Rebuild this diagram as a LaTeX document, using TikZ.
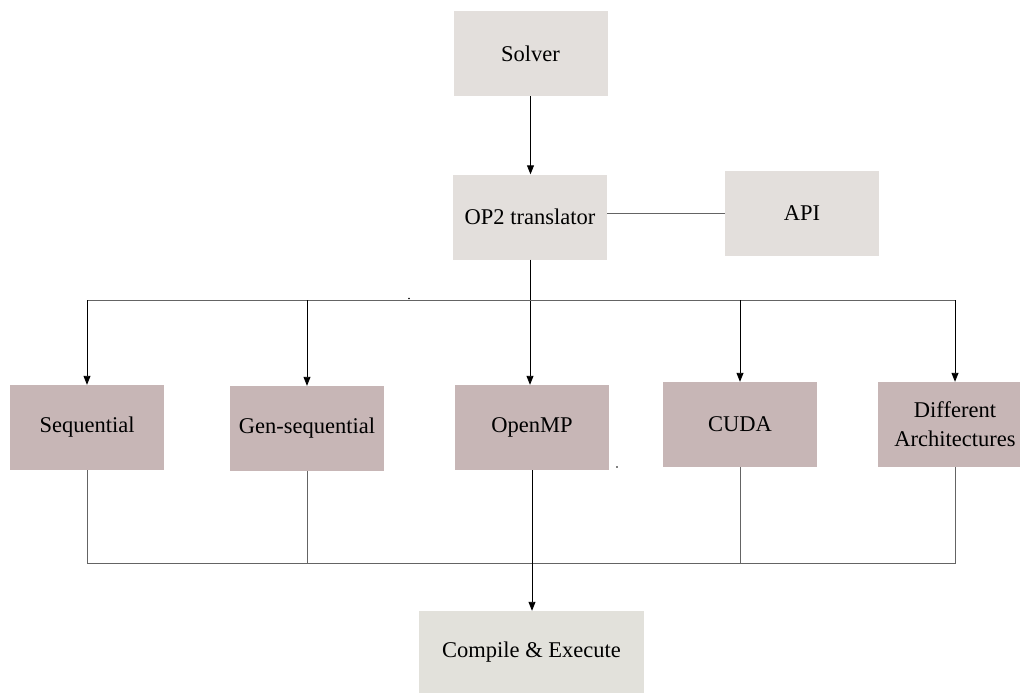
\documentclass[tikz,border=0pt]{standalone}
\usepackage{fontspec}
\setmainfont{Liberation Serif}
\usetikzlibrary{arrows.meta}
\definecolor{topgrey}{RGB}{227,223,220}
\definecolor{mauve}{RGB}{199,182,182}
\definecolor{botgrey}{RGB}{226,225,219}
\definecolor{linegrey}{RGB}{100,100,100}
\tikzset{
  box/.style={rectangle, inner sep=0pt, minimum width=154pt, minimum height=85pt, align=center,
    font=\fontsize{22.5}{29}\selectfont},
  topbox/.style={box, fill=topgrey},
  backbox/.style={box, fill=mauve},
  endbox/.style={box, fill=botgrey, minimum width=225pt, minimum height=82pt},
  arr/.style={draw=black, line width=0.9pt, -{Triangle[length=9pt,width=7pt]}},
  bus/.style={draw=linegrey, line width=0.9pt},
}
\begin{document}
\begin{tikzpicture}[x=1pt,y=-1pt]
\useasboundingbox (0,0) rectangle (1020,693);
\node[topbox] (solver) at (530.5,53.5) {Solver};
\node[topbox] (op2) at (530,217) {OP2 translator};
\node[topbox] (api) at (802,213.5) {API};
\node[backbox] (seq) at (87,427.5) {Sequential};
\node[backbox] (gen) at (307,428.5) {Gen-sequential};
\node[backbox] (omp) at (532,427.5) {OpenMP};
\node[backbox] (cuda) at (740,424.5) {CUDA};
\node[backbox] (diff) at (955,424.5) {Different\\Architectures};
\node[endbox] (comp) at (531.5,652) {Compile \& Execute};
\coordinate (ttop) at (531,300);
\coordinate (bbot) at (531,563);
% top connections
\draw[arr] (solver.south) -- (solver.south |- op2.north);
\draw[draw=linegrey, line width=0.9pt] (op2.east |- api.west) -- (api.west);
\draw[arr] (op2.south) -- (op2.south |- omp.north);
\draw[bus] (ttop -| seq.north) -- (ttop -| diff.north);
\draw[arr] (ttop -| seq.north) -- (seq.north);
\draw[arr] (ttop -| gen.north) -- (gen.north);
\draw[arr] (ttop -| cuda.north) -- (cuda.north);
\draw[arr] (ttop -| diff.north) -- (diff.north);
% bottom connections
\draw[bus] (seq.south) -- (seq.south |- bbot) -- (diff.south |- bbot) -- (diff.south);
\draw[bus] (gen.south) -- (gen.south |- bbot);
\draw[bus] (cuda.south) -- (cuda.south |- bbot);
\draw[arr] (omp.south) -- (omp.south |- comp.north);
% stray dots
\fill (409,298.5) circle (0.9pt);
\fill (617,467) circle (0.9pt);
\end{tikzpicture}
\end{document}
